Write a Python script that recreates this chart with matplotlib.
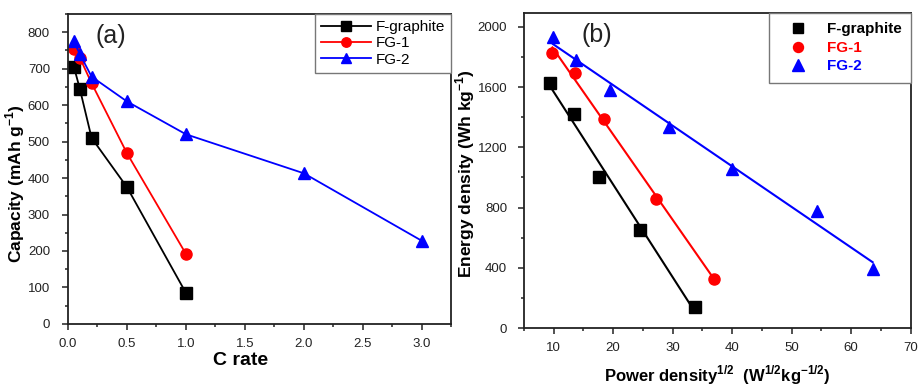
import numpy as np
import matplotlib
matplotlib.use("Agg")
import matplotlib.pyplot as plt
from matplotlib.ticker import MultipleLocator

plt.rcParams['font.family'] = ['Liberation Sans', 'DejaVu Sans']
plt.rcParams['mathtext.fontset'] = 'custom'
plt.rcParams['mathtext.rm'] = 'Liberation Sans'
plt.rcParams['mathtext.bf'] = 'Liberation Sans:bold'

# ---- Panel (a) data: capacity vs C rate ----
series_names = ["F-graphite", "FG-1", "FG-2"]
a_fgraphite_x = [0.05, 0.1, 0.2, 0.5, 1.0]
a_fgraphite_y = [705, 645, 510, 375, 85]
a_fg1_x = [0.05, 0.1, 0.2, 0.5, 1.0]
a_fg1_y = [755, 730, 660, 468, 192]
a_fg2_x = [0.05, 0.1, 0.2, 0.5, 1.0, 2.0, 3.0]
a_fg2_y = [775, 740, 678, 610, 520, 413, 228]

# ---- Panel (b) data: energy density vs sqrt(power density) ----
b_fgraphite_x = [9.4, 13.4, 17.7, 24.6, 33.8]
b_fgraphite_y = [1624, 1420, 1003, 649, 140]
b_fg1_x = [9.8, 13.6, 18.4, 27.2, 37.0]
b_fg1_y = [1823, 1694, 1387, 855, 328]
b_fg2_x = [9.9, 13.8, 19.4, 29.4, 39.9, 54.2, 63.6]
b_fg2_y = [1934, 1779, 1579, 1336, 1059, 777, 394]

colors = ["black", "#ff0000", "#0000ff"]
markers = ["s", "o", "^"]

fig = plt.figure(figsize=(9.19, 3.87), dpi=100)
axa = fig.add_axes([0.074, 0.163, 0.417, 0.801])
axb = fig.add_axes([0.570, 0.152, 0.421, 0.814])

def style_axes(ax, xpad, ypad):
    for s in ax.spines.values():
        s.set_linewidth(1.3)
        s.set_color("#222222")
    ax.tick_params(which='both', direction='out', top=False, right=False,
                   labelsize=9.5, colors='#222222', width=1.1)
    ax.tick_params(which='major', length=4)
    ax.tick_params(which='minor', length=2.5)
    ax.tick_params(axis='x', which='major', pad=xpad)
    ax.tick_params(axis='y', which='major', pad=ypad)

# Panel (a)
a_data = [(a_fgraphite_x, a_fgraphite_y), (a_fg1_x, a_fg1_y), (a_fg2_x, a_fg2_y)]
for (x, y), c, m, n in zip(a_data, colors, markers, series_names):
    axa.plot(x, y, color=c, marker=m, markersize=8 if m != '^' else 9,
             linewidth=1.3, label=n, clip_on=False)
axa.set_xlim(0, 3.25)
axa.set_ylim(0, 850)
axa.xaxis.set_major_locator(MultipleLocator(0.5))
axa.xaxis.set_minor_locator(MultipleLocator(0.25))
axa.yaxis.set_major_locator(MultipleLocator(100))
axa.yaxis.set_minor_locator(MultipleLocator(50))
axa.xaxis.set_major_formatter(plt.FormatStrFormatter('%.1f'))
style_axes(axa, 6, 9)
axa.set_xlabel("C rate", fontsize=14, fontweight='bold')
axa.xaxis.set_label_coords(0.449, -0.092)
axa.set_ylabel("Capacity (mAh g$^{\\mathbf{-1}}$)", fontsize=12.5, fontweight='bold')
axa.yaxis.set_label_coords(-0.107, 0.452)
axa.text(0.112, 0.93, "(a)", transform=axa.transAxes, fontsize=18,
         ha='center', va='center', color='#222222')
lega = axa.legend(loc='upper right', bbox_to_anchor=(1.0, 1.0), borderaxespad=0,
                  fontsize=11, handlelength=3.3, handletextpad=0.3, labelspacing=0.15,
                  fancybox=False, framealpha=1, markerscale=0.85, borderpad=0.4)
lega.get_frame().set_edgecolor('#777777')
lega.get_frame().set_linewidth(1.0)

# Panel (b)
b_data = [(b_fgraphite_x, b_fgraphite_y), (b_fg1_x, b_fg1_y), (b_fg2_x, b_fg2_y)]
for (x, y), c, m, n in zip(b_data, colors, markers, series_names):
    xa = np.array(x, dtype=float)
    ya = np.array(y, dtype=float)
    k, b0 = np.polyfit(xa, ya, 1)
    xf = np.array([xa.min(), xa.max()])
    axb.plot(xf, k * xf + b0, color=c, linewidth=1.5)
    axb.plot(xa, ya, linestyle='none', color=c, marker=m,
             markersize=8 if m != '^' else 9, label=n)
axb.set_xlim(5, 70)
axb.set_ylim(0, 2090)
axb.xaxis.set_major_locator(MultipleLocator(10))
axb.xaxis.set_minor_locator(MultipleLocator(5))
axb.yaxis.set_major_locator(MultipleLocator(400))
axb.yaxis.set_minor_locator(MultipleLocator(200))
style_axes(axb, 6, 8)
axb.set_xlabel("Power density$^{\\mathbf{1/2}}$  (W$^{\\mathbf{1/2}}$kg$^{\\mathbf{-1/2}}$)",
               fontsize=12, fontweight='bold')
axb.xaxis.set_label_coords(0.50, -0.112)
axb.set_ylabel("Energy density (Wh kg$^{\\mathbf{-1}}$)", fontsize=12.5, fontweight='bold')
axb.yaxis.set_label_coords(-0.12, 0.49)
axb.text(0.189, 0.93, "(b)", transform=axb.transAxes, fontsize=18,
         ha='center', va='center', color='#222222')
legb = axb.legend(loc='upper right', bbox_to_anchor=(1.0, 1.0), borderaxespad=0,
                  handlelength=2.6, handletextpad=0.6, labelspacing=0.3,
                  fancybox=False, framealpha=1, markerscale=0.9, borderpad=0.6,
                  prop={'weight': 'bold', 'size': 11})
legb.get_frame().set_edgecolor('#777777')
legb.get_frame().set_linewidth(1.0)
for t, c in zip(legb.get_texts(), colors):
    t.set_color(c)

fig.savefig("out.png", dpi=100)
